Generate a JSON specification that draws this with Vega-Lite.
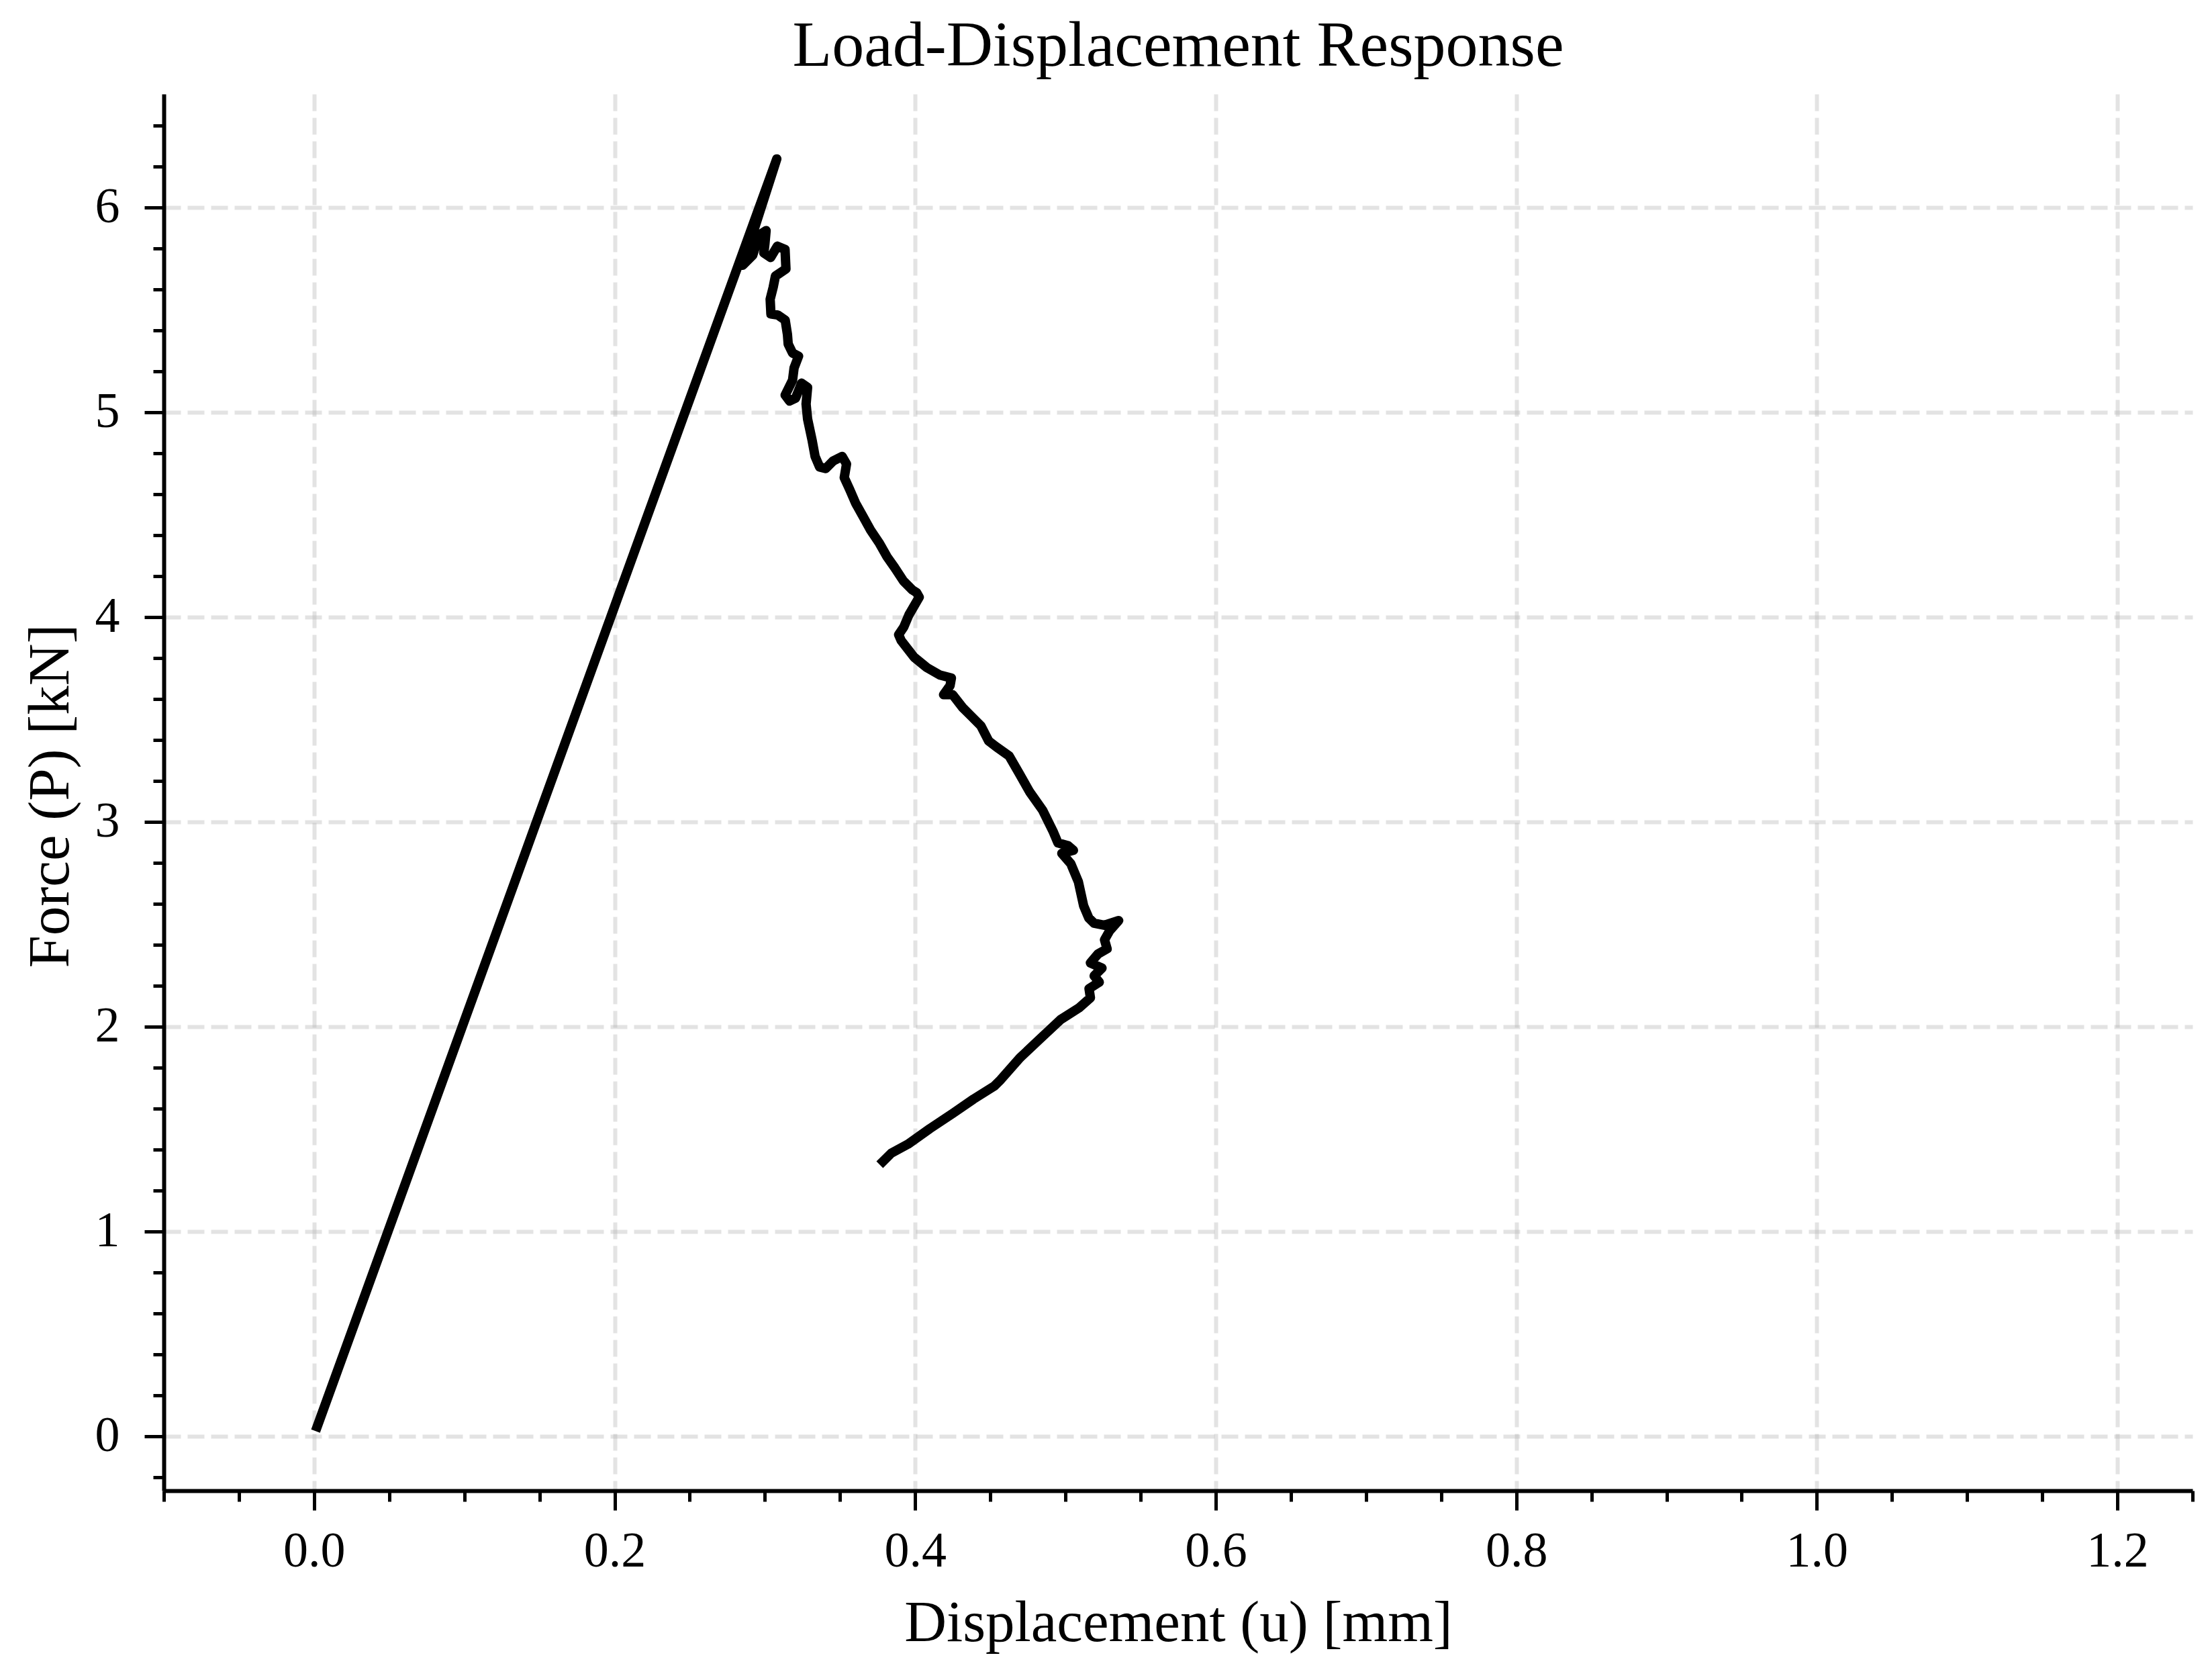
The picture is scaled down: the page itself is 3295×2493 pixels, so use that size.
{
  "$schema": "https://vega.github.io/schema/vega-lite/v6.json",
  "width": 3022,
  "height": 2080,
  "autosize": "none",
  "padding": {"left": 244, "top": 140, "right": 29, "bottom": 273},
  "background": "white",
  "title": {"text": "Load-Displacement Response", "font": "Liberation Serif", "fontSize": 96, "fontWeight": "normal", "color": "black", "baseline": "alphabetic", "offset": 47, "dy": 101, "anchor": "middle", "frame": "group"},
  "config": {
    "view": {"stroke": null},
    "axis": {
      "domainColor": "black", "domainWidth": 6,
      "tickColor": "black", "tickWidth": 5,
      "labelFont": "Liberation Serif", "labelFontSize": 74, "labelColor": "black",
      "titleFont": "Liberation Serif", "titleFontSize": 87, "titleFontWeight": "normal", "titleColor": "black",
      "gridColor": "#b0b0b0", "gridWidth": 6, "gridDash": [25, 10],
      "labelOverlap": false, "labelFlush": false, "labelBound": false
    }
  },
  "data": {"values": [
    {"i": 0, "u": 0.001, "P": 0.025},
    {"i": 1, "u": 0.15, "P": 3.04},
    {"i": 2, "u": 0.3079, "P": 6.237},
    {"i": 3, "u": 0.2852, "P": 5.718},
    {"i": 4, "u": 0.2919, "P": 5.767},
    {"i": 5, "u": 0.2963, "P": 5.866},
    {"i": 6, "u": 0.3008, "P": 5.887},
    {"i": 7, "u": 0.3000, "P": 5.822},
    {"i": 8, "u": 0.2993, "P": 5.778},
    {"i": 9, "u": 0.3038, "P": 5.756},
    {"i": 10, "u": 0.3083, "P": 5.811},
    {"i": 11, "u": 0.3134, "P": 5.795},
    {"i": 12, "u": 0.3140, "P": 5.700},
    {"i": 13, "u": 0.3070, "P": 5.665},
    {"i": 14, "u": 0.3055, "P": 5.610},
    {"i": 15, "u": 0.3035, "P": 5.552},
    {"i": 16, "u": 0.3040, "P": 5.480},
    {"i": 17, "u": 0.3085, "P": 5.475},
    {"i": 18, "u": 0.3135, "P": 5.450},
    {"i": 19, "u": 0.3150, "P": 5.380},
    {"i": 20, "u": 0.3155, "P": 5.333},
    {"i": 21, "u": 0.3184, "P": 5.289},
    {"i": 22, "u": 0.3224, "P": 5.274},
    {"i": 23, "u": 0.3194, "P": 5.216},
    {"i": 24, "u": 0.3184, "P": 5.157},
    {"i": 25, "u": 0.3135, "P": 5.084},
    {"i": 26, "u": 0.3164, "P": 5.055},
    {"i": 27, "u": 0.3204, "P": 5.069},
    {"i": 28, "u": 0.3244, "P": 5.142},
    {"i": 29, "u": 0.3284, "P": 5.121},
    {"i": 30, "u": 0.3274, "P": 5.040},
    {"i": 31, "u": 0.3284, "P": 4.967},
    {"i": 32, "u": 0.3314, "P": 4.864},
    {"i": 33, "u": 0.3334, "P": 4.784},
    {"i": 34, "u": 0.3364, "P": 4.733},
    {"i": 35, "u": 0.3404, "P": 4.725},
    {"i": 36, "u": 0.3454, "P": 4.762},
    {"i": 37, "u": 0.3514, "P": 4.784},
    {"i": 38, "u": 0.3543, "P": 4.747},
    {"i": 39, "u": 0.3528, "P": 4.681},
    {"i": 40, "u": 0.3564, "P": 4.623},
    {"i": 41, "u": 0.3603, "P": 4.557},
    {"i": 42, "u": 0.3653, "P": 4.491},
    {"i": 43, "u": 0.3703, "P": 4.425},
    {"i": 44, "u": 0.3763, "P": 4.359},
    {"i": 45, "u": 0.3813, "P": 4.294},
    {"i": 46, "u": 0.3863, "P": 4.242},
    {"i": 47, "u": 0.3922, "P": 4.176},
    {"i": 48, "u": 0.3982, "P": 4.132},
    {"i": 49, "u": 0.4010, "P": 4.119},
    {"i": 50, "u": 0.4027, "P": 4.097},
    {"i": 51, "u": 0.3958, "P": 4.010},
    {"i": 52, "u": 0.3924, "P": 3.951},
    {"i": 53, "u": 0.3890, "P": 3.914},
    {"i": 54, "u": 0.3907, "P": 3.885},
    {"i": 55, "u": 0.3993, "P": 3.804},
    {"i": 56, "u": 0.4078, "P": 3.753},
    {"i": 57, "u": 0.4164, "P": 3.717},
    {"i": 58, "u": 0.4241, "P": 3.702},
    {"i": 59, "u": 0.4232, "P": 3.665},
    {"i": 60, "u": 0.4189, "P": 3.621},
    {"i": 61, "u": 0.4249, "P": 3.621},
    {"i": 62, "u": 0.4318, "P": 3.556},
    {"i": 63, "u": 0.4369, "P": 3.519},
    {"i": 64, "u": 0.4438, "P": 3.468},
    {"i": 65, "u": 0.4489, "P": 3.395},
    {"i": 66, "u": 0.4540, "P": 3.366},
    {"i": 67, "u": 0.4625, "P": 3.322},
    {"i": 68, "u": 0.4694, "P": 3.234},
    {"i": 69, "u": 0.4762, "P": 3.146},
    {"i": 70, "u": 0.4847, "P": 3.058},
    {"i": 71, "u": 0.4916, "P": 2.956},
    {"i": 72, "u": 0.4950, "P": 2.897},
    {"i": 73, "u": 0.5018, "P": 2.883},
    {"i": 74, "u": 0.5053, "P": 2.861},
    {"i": 75, "u": 0.4976, "P": 2.846},
    {"i": 76, "u": 0.5036, "P": 2.795},
    {"i": 77, "u": 0.5086, "P": 2.707},
    {"i": 78, "u": 0.5121, "P": 2.590},
    {"i": 79, "u": 0.5155, "P": 2.531},
    {"i": 80, "u": 0.5191, "P": 2.505},
    {"i": 81, "u": 0.5258, "P": 2.495},
    {"i": 82, "u": 0.5354, "P": 2.518},
    {"i": 83, "u": 0.5294, "P": 2.468},
    {"i": 84, "u": 0.5260, "P": 2.424},
    {"i": 85, "u": 0.5277, "P": 2.380},
    {"i": 86, "u": 0.5217, "P": 2.355},
    {"i": 87, "u": 0.5166, "P": 2.311},
    {"i": 88, "u": 0.5243, "P": 2.286},
    {"i": 89, "u": 0.5191, "P": 2.248},
    {"i": 90, "u": 0.5225, "P": 2.217},
    {"i": 91, "u": 0.5157, "P": 2.185},
    {"i": 92, "u": 0.5166, "P": 2.141},
    {"i": 93, "u": 0.5089, "P": 2.091},
    {"i": 94, "u": 0.4969, "P": 2.035},
    {"i": 95, "u": 0.4832, "P": 1.941},
    {"i": 96, "u": 0.4696, "P": 1.847},
    {"i": 97, "u": 0.4568, "P": 1.740},
    {"i": 98, "u": 0.4525, "P": 1.709},
    {"i": 99, "u": 0.4388, "P": 1.646},
    {"i": 100, "u": 0.4251, "P": 1.577},
    {"i": 101, "u": 0.4098, "P": 1.502},
    {"i": 102, "u": 0.3952, "P": 1.426},
    {"i": 103, "u": 0.3841, "P": 1.382},
    {"i": 104, "u": 0.3764, "P": 1.326}
  ]},
  "mark": {"type": "line", "color": "black", "strokeWidth": 14, "strokeCap": "butt", "strokeJoin": "round"},
  "encoding": {
    "x": {
      "field": "u", "type": "quantitative",
      "scale": {"domain": [-0.1, 1.25], "nice": false, "zero": false},
      "axis": {
        "title": "Displacement (u) [mm]",
        "values": [-0.1, -0.05, 0, 0.05, 0.1, 0.15, 0.2, 0.25, 0.3, 0.35, 0.4, 0.45, 0.5, 0.55, 0.6, 0.65, 0.7, 0.75, 0.8, 0.85, 0.9, 0.95, 1.0, 1.05, 1.1, 1.15, 1.2, 1.25],
        "tickSize": {"condition": {"test": "abs(datum.value*5 - round(datum.value*5)) < 0.001", "value": 29}, "value": 16},
        "gridOpacity": {"condition": {"test": "abs(datum.value*5 - round(datum.value*5)) < 0.001", "value": 0.35}, "value": 0},
        "labelExpr": "abs(datum.value*5 - round(datum.value*5)) < 0.001 ? format(datum.value, '.1f') : ''",
        "labelPadding": 25,
        "titleBaseline": "alphabetic",
        "titleY": 223
      }
    },
    "y": {
      "field": "P", "type": "quantitative",
      "scale": {"domain": [-0.266, 6.554], "nice": false, "zero": false},
      "axis": {
        "title": "Force (P) [kN]",
        "values": [-0.2, 0, 0.2, 0.4, 0.6, 0.8, 1, 1.2, 1.4, 1.6, 1.8, 2, 2.2, 2.4, 2.6, 2.8, 3, 3.2, 3.4, 3.6, 3.8, 4, 4.2, 4.4, 4.6, 4.8, 5, 5.2, 5.4, 5.6, 5.8, 6, 6.2, 6.4],
        "tickSize": {"condition": {"test": "abs(datum.value - round(datum.value)) < 0.001", "value": 29}, "value": 16},
        "gridOpacity": {"condition": {"test": "abs(datum.value - round(datum.value)) < 0.001", "value": 0.35}, "value": 0},
        "labelExpr": "abs(datum.value - round(datum.value)) < 0.001 ? format(datum.value, '.0f') : ''",
        "labelPadding": 37,
        "titleBaseline": "alphabetic",
        "titleAngle": -90,
        "titleX": -143,
        "titleY": 1045
      }
    },
    "order": {"field": "i", "type": "quantitative"}
  }
}
